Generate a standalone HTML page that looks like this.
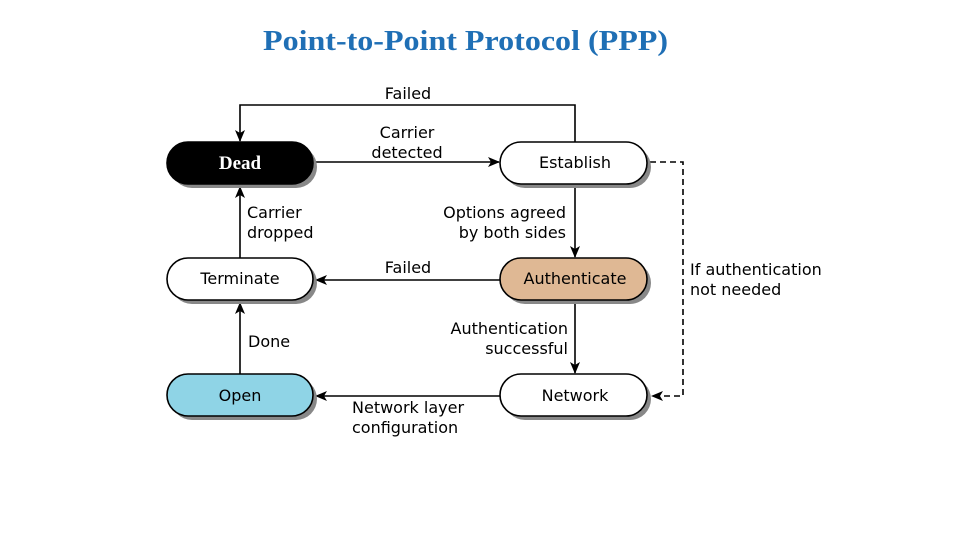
<!DOCTYPE html>
<html><head><meta charset="utf-8"><style>
html,body{margin:0;padding:0;background:#fff;}
body{width:960px;height:540px;overflow:hidden;}
</style></head><body>
<svg width="960" height="540" xmlns="http://www.w3.org/2000/svg" font-family="'DejaVu Sans','Liberation Sans',sans-serif">
<defs>
<marker id="a" markerWidth="12" markerHeight="10" refX="11" refY="5" orient="auto" markerUnits="userSpaceOnUse">
<path d="M0,0 L12,5 L0,10 L3,5 Z" fill="#000"/></marker>
</defs>
<text x="263" y="50" textLength="405" lengthAdjust="spacingAndGlyphs" font-family="'Liberation Serif',serif" font-size="28" font-weight="bold" fill="#1f6fb5">Point-to-Point Protocol (PPP)</text>
<g stroke="#000" stroke-width="1.6" fill="none">
<polyline points="575,142 575,105 240,105 240,141" marker-end="url(#a)"/>
<line x1="315" y1="162" x2="499" y2="162" marker-end="url(#a)"/>
<line x1="240" y1="258" x2="240" y2="187" marker-end="url(#a)"/>
<line x1="575" y1="186" x2="575" y2="257" marker-end="url(#a)"/>
<line x1="500" y1="280" x2="316" y2="280" marker-end="url(#a)"/>
<line x1="575" y1="302" x2="575" y2="373" marker-end="url(#a)"/>
<line x1="240" y1="374" x2="240" y2="303" marker-end="url(#a)"/>
<line x1="500" y1="396" x2="316" y2="396" marker-end="url(#a)"/>
<polyline points="650,162 683,162 683,396 652,396" stroke-dasharray="6,4" marker-end="url(#a)"/>
</g>
<g stroke="#000" stroke-width="1.6">
<rect x="171" y="146" width="146" height="42" rx="21" fill="#888" stroke="none"/>
<rect x="167" y="142" width="146" height="42" rx="21" fill="#000"/>
<rect x="504" y="146" width="147" height="42" rx="21" fill="#888" stroke="none"/>
<rect x="500" y="142" width="147" height="42" rx="21" fill="#fff"/>
<rect x="171" y="262" width="146" height="42" rx="21" fill="#888" stroke="none"/>
<rect x="167" y="258" width="146" height="42" rx="21" fill="#fff"/>
<rect x="504" y="262" width="147" height="42" rx="21" fill="#888" stroke="none"/>
<rect x="500" y="258" width="147" height="42" rx="21" fill="#dfb894"/>
<rect x="171" y="378" width="146" height="42" rx="21" fill="#888" stroke="none"/>
<rect x="167" y="374" width="146" height="42" rx="21" fill="#8fd4e6"/>
<rect x="504" y="378" width="147" height="42" rx="21" fill="#888" stroke="none"/>
<rect x="500" y="374" width="147" height="42" rx="21" fill="#fff"/>
</g>
<text x="240" y="169" text-anchor="middle" font-family="'Liberation Serif',serif" font-weight="bold" font-size="19" fill="#fff">Dead</text>
<g font-size="16" fill="#000">
<text x="575" y="168" text-anchor="middle">Establish</text>
<text x="240" y="284" text-anchor="middle">Terminate</text>
<text x="575" y="284" text-anchor="middle">Authenticate</text>
<text x="240" y="401" text-anchor="middle">Open</text>
<text x="575" y="401" text-anchor="middle">Network</text>
<text x="408" y="99" text-anchor="middle">Failed</text>
<text x="407" y="138" text-anchor="middle">Carrier</text>
<text x="407" y="158" text-anchor="middle">detected</text>
<text x="247" y="218">Carrier</text>
<text x="247" y="238">dropped</text>
<text x="566" y="218" text-anchor="end">Options agreed</text>
<text x="566" y="238" text-anchor="end">by both sides</text>
<text x="408" y="273" text-anchor="middle">Failed</text>
<text x="690" y="275">If authentication</text>
<text x="690" y="295">not needed</text>
<text x="568" y="334" text-anchor="end">Authentication</text>
<text x="568" y="354" text-anchor="end">successful</text>
<text x="248" y="347">Done</text>
<text x="352" y="413">Network layer</text>
<text x="352" y="433">configuration</text>
</g>
</svg>
</body></html>
